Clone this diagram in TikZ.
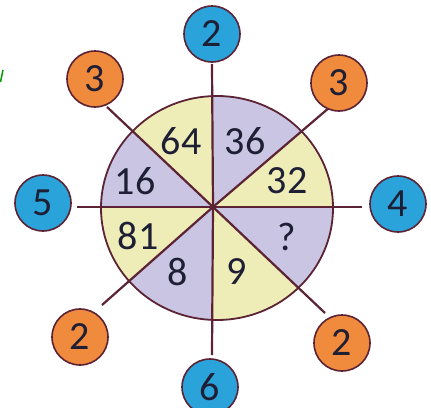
\documentclass[tikz,border=0pt]{standalone}
\usepackage{fontspec}
\setmainfont{Carlito}
\usepackage{xcolor}
\usetikzlibrary{calc}

\definecolor{wheelline}{HTML}{5C2335}
\definecolor{numtext}{HTML}{1E1E34}
\definecolor{ballblue}{HTML}{2AA3DB}
\definecolor{ballorange}{HTML}{F08A3C}
\definecolor{slicey}{HTML}{EEEDB8}
\definecolor{slicep}{HTML}{C9C5E2}

\begin{document}
\begin{tikzpicture}[x=1pt,y=-1pt,
    ball/.style={circle, draw=wheelline, line width=1.6pt, minimum size=56pt,
      inner sep=0pt, text=numtext, font=\fontsize{40}{42}\selectfont},
    blueball/.style={ball, fill=ballblue},
    orangeball/.style={ball, fill=ballorange},
    spoke/.style={draw=wheelline, line width=2.2pt},
    slicenum/.style={text=numtext, font=\fontsize{40}{42}\selectfont, inner sep=0pt}]
    \useasboundingbox (0,0) rectangle (431,407);

    % hub and spoke ends
    \coordinate (hub) at (213,207);
    \coordinate (eT)  at (212,64);
    \coordinate (eTR) at (330,107);
    \coordinate (eR)  at (362,207);
    \coordinate (eBR) at (325,313);
    \coordinate (eB)  at (212,355);
    \coordinate (eBL) at (102,305);
    \coordinate (eL)  at (77,207);
    \coordinate (eTL) at (107,107);

    % coloured slices
    \begin{scope}
        \clip (217,208) ellipse [x radius=116, y radius=112];
        \fill[slicep] (hub) -- ($(hub)!3!(eT)$) -- ($(hub)!3!(eTR)$) -- cycle;
        \fill[slicey] (hub) -- ($(hub)!3!(eTR)$) -- ($(hub)!3!(eR)$) -- cycle;
        \fill[slicep] (hub) -- ($(hub)!3!(eR)$) -- ($(hub)!3!(eBR)$) -- cycle;
        \fill[slicey] (hub) -- ($(hub)!3!(eBR)$) -- ($(hub)!3!(eB)$) -- cycle;
        \fill[slicep] (hub) -- ($(hub)!3!(eB)$) -- ($(hub)!3!(eBL)$) -- cycle;
        \fill[slicey] (hub) -- ($(hub)!3!(eBL)$) -- ($(hub)!3!(eL)$) -- cycle;
        \fill[slicep] (hub) -- ($(hub)!3!(eL)$) -- ($(hub)!3!(eTL)$) -- cycle;
        \fill[slicey] (hub) -- ($(hub)!3!(eTL)$) -- ($(hub)!3!(eT)$) -- cycle;
    \end{scope}
    \draw[wheelline, line width=1.8pt] (217,208) ellipse [x radius=116, y radius=112];

    % spokes
    \foreach \e in {eT,eTR,eR,eBR,eB,eBL,eL,eTL}
        \draw[spoke] (hub) -- (\e);

    % slice numbers
    \node[slicenum] (s64) at (181,141) {64};
    \node[slicenum] (s36) at (245,141) {36};
    \node[slicenum] (s16) at (135,181) {16};
    \node[slicenum] (s32) at (287,181) {32};
    \node[slicenum] (s81) at (138,236) {81};
    \node[slicenum] (sq)  at (287,237) {?};
    \node[slicenum] (s8)  at (178,272) {8};
    \node[slicenum] (s9)  at (237,272) {9};

    % outer balls
    \node[blueball] (bT) at (212,34) {2};
    \node[blueball] (bR) at (398,204) {4};
    \node[blueball] (bB) at (210,387) {6};
    \node[blueball] (bL) at (43,203) {5};
    \node[orangeball] (oTL) at (95,79) {3};
    \node[orangeball] (oTR) at (339,83) {3};
    \node[orangeball] (oBL) at (80,337) {2};
    \node[orangeball] (oBR) at (342,343) {2};

    % green mark at the left edge
    \draw[green!60!black, line width=1.5pt] (0.5,82) -- (3,70);
\end{tikzpicture}
\end{document}
